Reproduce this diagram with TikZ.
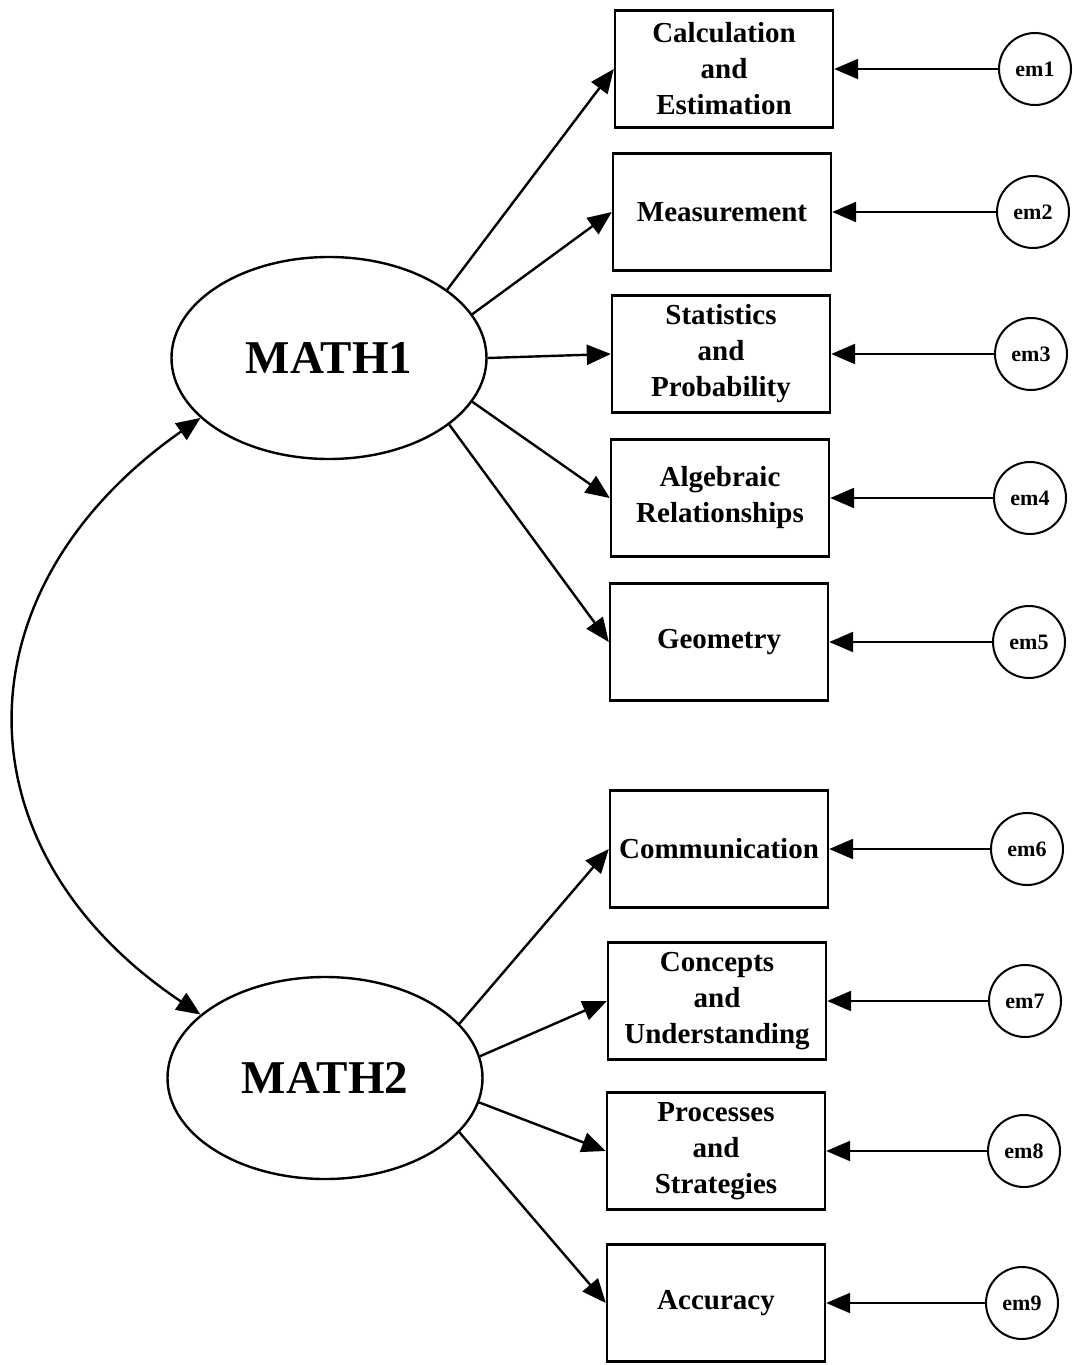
\documentclass[tikz,border=0pt]{standalone}
\usepackage{fontspec}
\setmainfont{Liberation Serif}
\usetikzlibrary{shapes.geometric,arrows.meta}
\begin{document}
\begin{tikzpicture}[x=1pt,y=-1pt,
 box/.style={draw, line width=2.4pt, minimum width=218pt, minimum height=117pt, inner sep=0pt, align=center, font=\fontsize{29}{36}\selectfont\bfseries},
 lat/.style={draw, ellipse, line width=2.4pt, minimum width=315pt, minimum height=202pt, inner sep=0pt, font=\fontsize{47}{56}\selectfont\bfseries},
 err/.style={draw, circle, line width=2pt, minimum size=72pt, inner sep=0pt, font=\fontsize{22}{24}\selectfont\bfseries},
 tip/.tip={Triangle[length=24pt,width=20pt]},
 arr/.style={line width=2.4pt, -tip},
]
\useasboundingbox (0,0) rectangle (1073,1365);
\node[lat] (m1) at (329,358) {MATH1};
\node[lat] (m2) at (325,1078) {MATH2};

\node[box] (b1) at (724,69) {Calculation\\and\\Estimation};
\node[box] (b2) at (722,212) {Measurement};
\node[box] (b3) at (721,354) {Statistics\\and\\Probability};
\node[box] (b4) at (720,498) {Algebraic\\Relationships};
\node[box] (b5) at (719,642) {Geometry};
\node[box] (b6) at (719,849) {Communication};
\node[box] (b7) at (717,1001) {Concepts\\and\\Understanding};
\node[box] (b8) at (716,1151) {Processes\\and\\Strategies};
\node[box] (b9) at (716,1303) {Accuracy};

\node[err] (e1) at (1035,69) {em1};
\node[err] (e2) at (1033,212) {em2};
\node[err] (e3) at (1031,354) {em3};
\node[err] (e4) at (1030,498) {em4};
\node[err] (e5) at (1029,642) {em5};
\node[err] (e6) at (1027,849) {em6};
\node[err] (e7) at (1025,1001) {em7};
\node[err] (e8) at (1024,1151) {em8};
\node[err] (e9) at (1022,1303) {em9};

\foreach \i in {1,...,9} { \draw[arr] (e\i) -- (b\i); }
\draw[arr] (m1.30) -- (b1.west);
\draw[arr] (m1.17) -- (b2.west);
\draw[arr] (m1.0) -- (b3.west);
\draw[arr] (m1.-17) -- (b4.west);
\draw[arr] (m1.-29) -- (b5.west);
\draw[arr] (m2.22) -- (b6.west);
\draw[arr] (m2.8) -- (b7.west);
\draw[arr] (m2.-9) -- (b8.west);
\draw[arr] (m2.-22) -- (b9.west);

\draw[line width=2.4pt, tip-tip] (m1.205) .. controls (-45,590) and (-45,850) .. (m2.153);
\end{tikzpicture}
\end{document}
